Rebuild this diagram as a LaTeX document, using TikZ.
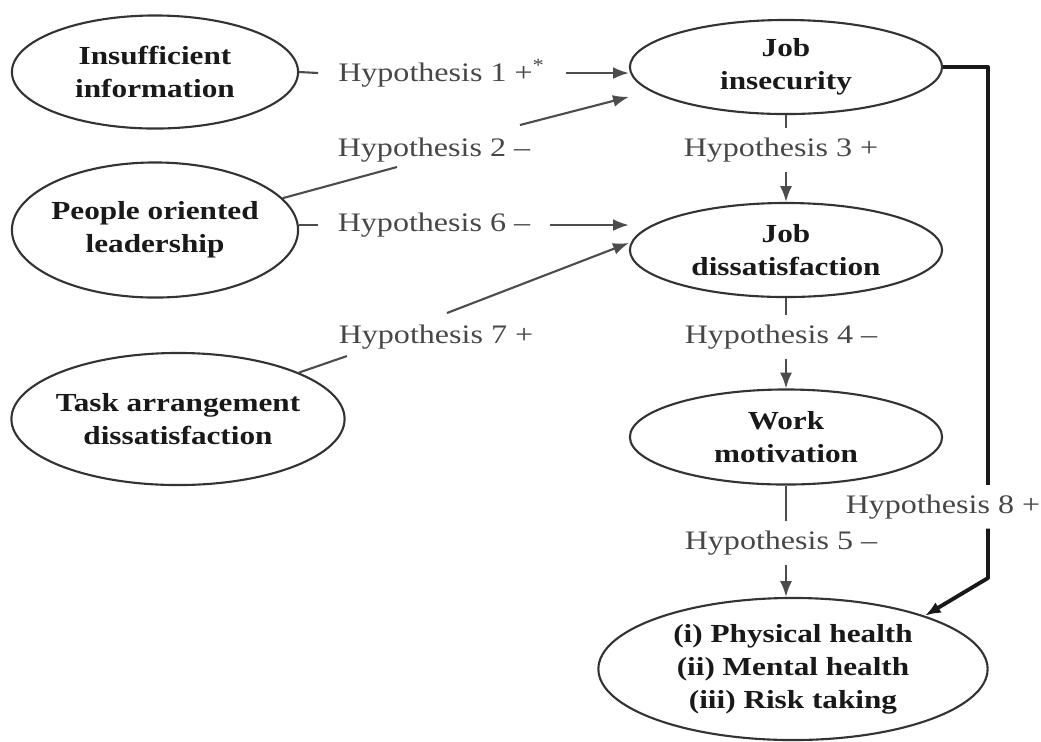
\documentclass[tikz,border=0pt]{standalone}
\usepackage{fontspec}
\setmainfont{Liberation Serif}[FakeStretch=1.2]
\usetikzlibrary{arrows.meta,calc,shapes.geometric}

\begin{document}
\begin{tikzpicture}[x=0.01cm,y=-0.01cm,>={Latex[length=4.5pt,width=3.4pt]},line join=round,
  factor/.style={ellipse,draw=black!80,line width=0.6pt,inner xsep=-0.12cm,inner ysep=0pt,
    align=center,font=\fontsize{7.4}{9.4}\selectfont\bfseries,text=black!90},
  hyp/.style={inner xsep=5.5pt,inner ysep=2.5pt,font=\fontsize{7.6}{9}\selectfont,text=black!72},
  link/.style={draw=black!70,line width=0.6pt},
  mainlink/.style={draw=black!90,line width=1.1pt}]
  \useasboundingbox (0,0) rectangle (1041,741);
  % factors
  \node[factor,minimum width=2.86cm,minimum height=1.13cm] (info) at (155,72) {Insufficient\\information};
  \node[factor,minimum width=2.86cm,minimum height=1.35cm] (lead) at (155,230) {People oriented\\leadership};
  \node[factor,minimum width=3.33cm,minimum height=1.32cm] (task) at (178,419) {Task arrangement\\dissatisfaction};
  \node[factor,minimum width=3.12cm,minimum height=0.94cm] (insec) at (786,67) {Job\\insecurity};
  \node[factor,minimum width=3.12cm,minimum height=0.94cm] (dissat) at (786,250) {Job\\dissatisfaction};
  \node[factor,minimum width=3.12cm,minimum height=0.95cm] (motiv) at (786,437) {Work\\motivation};
  \node[factor,minimum width=3.89cm,minimum height=1.42cm] (health) at (793,669) {(i) Physical health\\(ii) Mental health\\(iii) Risk taking};
  % hypotheses
  \node[hyp] (h1) at (442,73) {Hypothesis 1 +\textsuperscript{*}};
  \node[hyp] (h2) at (434,150) {Hypothesis 2 --};
  \node[hyp] (h6) at (434,225) {Hypothesis 6 --};
  \node[hyp] (h7) at (436,337) {Hypothesis 7 +};
  \node[hyp] (h3) at (781,150) {Hypothesis 3 +};
  \node[hyp] (h4) at (781,337) {Hypothesis 4 --};
  \node[hyp] (h5) at (781,543) {Hypothesis 5 --};
  \node[hyp] (h8) at (943,507) {Hypothesis 8 +};
  \coordinate (h2a) at (397,167);
  \coordinate (h2b) at (520,125);
  \coordinate (h7a) at (347,356);
  \coordinate (h7b) at (447,313);
  \coordinate (rail) at (988,578);
  % links
  \draw[link] (info.east) -- (h1.west);
  \draw[link,->] (h1.east) -- (h1.east -| insec.west);
  \draw[link] (lead.14) -- (h2a);
  \draw[link,->] (h2b) -- ([yshift=-8.5pt]insec.west);
  \draw[link] (h6.west -| lead.east) -- (h6.west);
  \draw[link,->] (h6.east) -- (h6.east -| dissat.west);
  \draw[link] (task.21) -- (h7a);
  \draw[link,->] (h7b) -- ([yshift=2pt]dissat.west);
  \draw[link] (insec.south) -- (insec.south |- h3.north);
  \draw[link,->] (insec.south |- h3.south) -- (dissat.north);
  \draw[link] (dissat.south) -- (dissat.south |- h4.north);
  \draw[link,->] (dissat.south |- h4.south) -- (motiv.north);
  \draw[link] (motiv.south) -- (motiv.south |- h5.north);
  \draw[link,->] (motiv.south |- h5.south) -- (health.north -| motiv.south);
  \draw[mainlink] (insec.east) -| (rail |- h8.north);
  \draw[mainlink,->] (rail |- h8.south) -- (rail) -- (health.22);
\end{tikzpicture}
\end{document}
